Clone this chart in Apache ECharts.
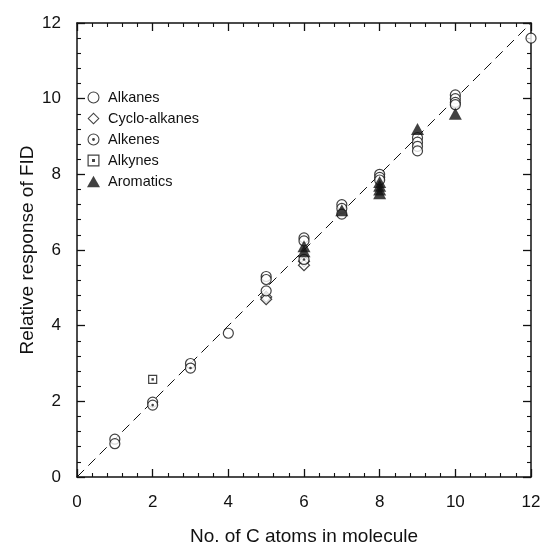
<!DOCTYPE html>
<html>
<head>
<meta charset="utf-8">
<script src="https://cdn.jsdelivr.net/npm/echarts@6/dist/echarts.min.js"></script>
<style>
  html, body { margin: 0; padding: 0; background: #fff; }
  #chart { width: 543px; height: 545px; }
</style>
</head>
<body>
<div id="chart"></div>
<script>
// Relative FID response versus carbon number, by compound class: [C atoms, response]
const alkanes = [
  [1, 1.0], [1, 0.88], [2, 1.98], [3, 3.0], [4, 3.8],
  [5, 5.3], [5, 5.22], [5, 4.92],
  [6, 6.32], [6, 6.24],
  [7, 7.2], [7, 7.1], [7, 6.95],
  [8, 8.0], [8, 7.92], [8, 7.85],
  [9, 8.97], [9, 8.85], [9, 8.74], [9, 8.62],
  [10, 10.1], [10, 10.0], [10, 9.9], [10, 9.84],
  [12, 11.6]
];
const cycloAlkanes = [[5, 4.76], [5, 4.7], [6, 5.7], [6, 5.6]];
const alkenes = [[2, 1.9], [3, 2.88], [6, 5.75]];
const alkynes = [[2, 2.58]];
const aromatics = [
  [6, 6.1], [6, 5.97], [7, 7.05],
  [8, 7.8], [8, 7.7], [8, 7.6], [8, 7.5],
  [9, 9.2], [10, 9.6]
];
// Unit-response reference line
const unityLine = [[0, 0], [12, 12]];

const seriesNames = ['Alkanes', 'Cyclo-alkanes', 'Alkenes', 'Alkynes', 'Aromatics'];
const xTicks = { min: 0, max: 12, step: 2 };
const yTicks = { min: 0, max: 12, step: 2 };

const FONT = '"Liberation Sans", Arial, Helvetica, sans-serif';
const INK = '#111';

// Legend glyphs: outline shapes drawn as filled rings
const ringPath = 'path://M0,-10A10,10 0 1,1 0,10A10,10 0 1,1 0,-10ZM0,-8.2A8.2,8.2 0 1,0 0,8.2A8.2,8.2 0 1,0 0,-8.2Z';
const ringDotPath = ringPath + 'M0,-2.4A2.4,2.4 0 1,1 0,2.4A2.4,2.4 0 1,1 0,-2.4Z';
const diamondPath = 'path://M0,-11L11,0L0,11L-11,0ZM0,-8.4L-8.4,0L0,8.4L8.4,0Z';
const squareDotPath = 'path://M-9,-9L9,-9L9,9L-9,9ZM-7.2,-7.2L-7.2,7.2L7.2,7.2L7.2,-7.2ZM-2.2,-2.2L2.2,-2.2L2.2,2.2L-2.2,2.2Z';
const trianglePath = 'path://M0,-10L10,8L-10,8Z';

function axisBase(range, extra) {
  return Object.assign({
    type: 'value',
    min: range.min,
    max: range.max,
    interval: range.step,
    nameMoveOverlap: false,
    axisLine: { show: true, onZero: false, lineStyle: { color: INK, width: 1.5 } },
    axisTick: { show: true, inside: true, length: 8, lineStyle: { color: INK, width: 1.3 } },
    minorTick: { show: true, splitNumber: 5, length: 4, lineStyle: { color: INK, width: 1.1 } },
    splitLine: { show: false },
    minorSplitLine: { show: false }
  }, extra);
}

const openStyle = { color: '#fff', borderColor: INK, borderWidth: 1.2 };

const option = {
  animation: false,
  backgroundColor: '#fff',
  grid: { left: 77, right: 12, top: 23, bottom: 68, containLabel: false, outerBoundsMode: 'none' },
  xAxis: [
    axisBase(xTicks, {
      position: 'bottom',
      axisLabel: { color: INK, fontFamily: FONT, fontSize: 17, margin: 17 },
      name: 'No. of C atoms in molecule',
      nameLocation: 'middle',
      nameGap: 50,
      nameTextStyle: { color: INK, fontFamily: FONT, fontSize: 19 }
    }),
    axisBase(xTicks, { position: 'top', axisLabel: { show: false } })
  ],
  yAxis: [
    axisBase(yTicks, {
      position: 'left',
      axisLabel: { color: INK, fontFamily: FONT, fontSize: 17, margin: 16 },
      name: 'Relative response of FID',
      nameLocation: 'middle',
      nameGap: 40,
      nameTextStyle: { color: INK, fontFamily: FONT, fontSize: 19 }
    }),
    axisBase(yTicks, { position: 'right', axisLabel: { show: false } })
  ],
  legend: {
    orient: 'vertical',
    left: 87,
    top: 90,
    itemWidth: 13,
    itemHeight: 12,
    itemGap: 6,
    padding: 0,
    textStyle: { color: INK, fontFamily: FONT, fontSize: 14.5, padding: [0, 0, 0, 3] },
    data: [
      { name: seriesNames[0], icon: ringPath, itemStyle: { color: INK, borderWidth: 0 } },
      { name: seriesNames[1], icon: diamondPath, itemStyle: { color: INK, borderWidth: 0 } },
      { name: seriesNames[2], icon: ringDotPath, itemStyle: { color: INK, borderWidth: 0 } },
      { name: seriesNames[3], icon: squareDotPath, itemStyle: { color: INK, borderWidth: 0 } },
      { name: seriesNames[4], icon: trianglePath, itemStyle: { color: INK, borderWidth: 0 } }
    ]
  },
  series: [
    {
      name: 'unity',
      type: 'line',
      data: unityLine,
      symbol: 'none',
      silent: true,
      z: 1,
      lineStyle: { color: INK, width: 1, type: [10, 6] }
    },
    {
      name: seriesNames[0], type: 'scatter', data: alkanes,
      symbol: 'circle', symbolSize: 10, itemStyle: openStyle, z: 3
    },
    {
      name: seriesNames[1], type: 'scatter', data: cycloAlkanes,
      symbol: 'diamond', symbolSize: 11, itemStyle: openStyle, z: 2
    },
    {
      name: seriesNames[2], type: 'scatter', data: alkenes,
      symbol: 'circle', symbolSize: 10, itemStyle: openStyle, z: 4
    },
    {
      name: seriesNames[2], type: 'scatter', data: alkenes,
      symbol: 'circle', symbolSize: 2.6, itemStyle: { color: INK }, z: 5
    },
    {
      name: seriesNames[3], type: 'scatter', data: alkynes,
      symbol: 'rect', symbolSize: 8, itemStyle: openStyle, z: 4
    },
    {
      name: seriesNames[3], type: 'scatter', data: alkynes,
      symbol: 'rect', symbolSize: 2.4, itemStyle: { color: INK }, z: 5
    },
    {
      name: seriesNames[4], type: 'scatter', data: aromatics,
      symbol: 'triangle', symbolSize: [13, 12], itemStyle: { color: INK }, z: 6
    }
  ]
};

const chart = echarts.init(document.getElementById('chart'), null, { renderer: 'canvas' });
chart.setOption(option);
</script>
</body>
</html>
